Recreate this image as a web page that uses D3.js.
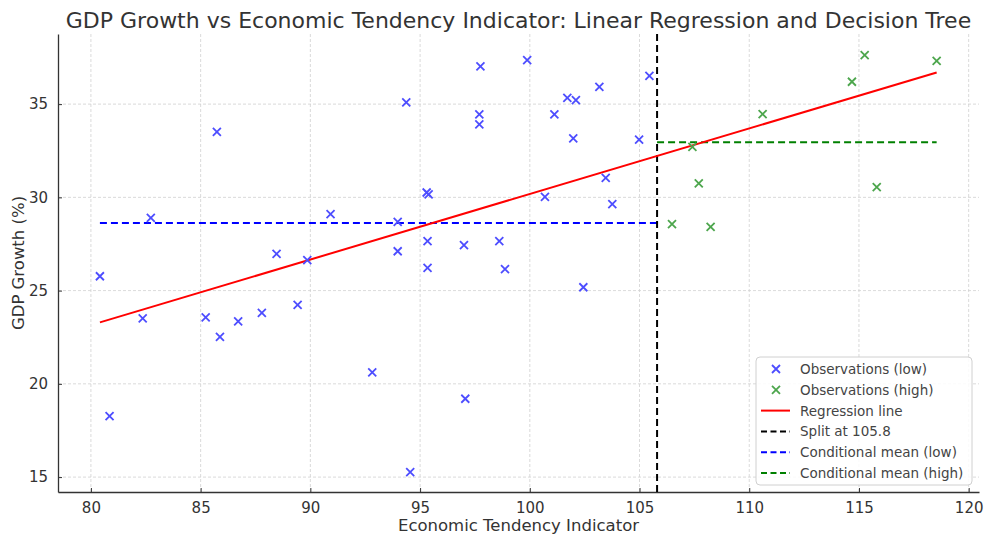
<!doctype html>
<html lang="en">
<head>
<meta charset="utf-8">
<title>GDP Growth vs Economic Tendency Indicator</title>
<script src="https://cdn.jsdelivr.net/npm/d3@7"></script>
<style>
  body { margin: 0; background: #fff; }
  text { font-family: "DejaVu Sans", sans-serif; }
</style>
</head>
<body>
<script>
// observations below the split (x = ETI, y = GDP growth)
var lowX = [80.41, 80.85, 82.36, 82.73, 85.23, 85.74, 85.88, 86.71, 87.79, 88.46,
            89.42, 89.86, 90.92, 92.82, 93.98, 93.98, 94.37, 94.55, 95.30, 95.39,
            95.34, 95.34, 97.00, 97.06, 97.70, 97.70, 97.75, 98.61, 98.87, 99.88,
            100.69, 101.12, 101.71, 101.98, 102.10, 102.44, 103.17, 103.46, 103.76, 104.98,
            105.45];
var lowY = [25.77, 18.27, 23.51, 28.90, 23.57, 33.51, 22.52, 23.35, 23.80, 26.97,
            24.23, 26.63, 29.10, 20.61, 28.69, 27.11, 35.09, 15.27, 30.26, 30.16,
            27.65, 26.22, 27.44, 19.20, 34.45, 33.91, 37.02, 27.65, 26.15, 37.36,
            30.03, 34.45, 35.34, 33.16, 35.21, 25.18, 35.93, 31.05, 29.64, 33.10,
            36.52];

// observations above the split
var highX = [106.48, 107.41, 107.70, 108.24, 110.61, 114.68, 115.26, 115.81, 118.54];
var highY = [28.56, 32.71, 30.75, 28.42, 34.46, 36.20, 37.63, 30.55, 37.32];

// model values
var split = 105.8;
var meanLow = 28.63;
var meanHigh = 32.96;
var slope = 0.3514;
var intercept = -4.96;

var xTicks = [80, 85, 90, 95, 100, 105, 110, 115, 120];
var yTicks = [15, 20, 25, 30, 35];

var width = 986, height = 536;
var margin = { top: 34, right: 7, bottom: 44, left: 58 };

var svg = d3.select("body").append("svg")
    .attr("width", width)
    .attr("height", height);

var x = d3.scaleLinear().domain([78.5, 120.47]).range([margin.left, width - margin.right]);
var y = d3.scaleLinear().domain([14.2, 38.76]).range([height - margin.bottom, margin.top]);

var lowPts = lowX.map(function(v, i) { return [v, lowY[i]]; });
var highPts = highX.map(function(v, i) { return [v, highY[i]]; });

// grid
svg.append("g").selectAll("line").data(xTicks).enter().append("line")
    .attr("x1", function(d) { return x(d); })
    .attr("x2", function(d) { return x(d); })
    .attr("y1", y.range()[0]).attr("y2", y.range()[1])
    .attr("stroke", "#d0d0d0").attr("stroke-width", 0.8).attr("stroke-dasharray", "3,2");
svg.append("g").selectAll("line").data(yTicks).enter().append("line")
    .attr("y1", function(d) { return y(d); })
    .attr("y2", function(d) { return y(d); })
    .attr("x1", x.range()[0]).attr("x2", x.range()[1])
    .attr("stroke", "#d0d0d0").attr("stroke-width", 0.8).attr("stroke-dasharray", "3,2");

// axes (inward ticks)
var xAxis = svg.append("g")
    .attr("transform", "translate(0," + y.range()[0] + ")")
    .call(d3.axisBottom(x).tickValues(xTicks).tickSizeInner(-4).tickSizeOuter(0).tickPadding(10));
var yAxis = svg.append("g")
    .attr("transform", "translate(" + x.range()[0] + ",0)")
    .call(d3.axisLeft(y).tickValues(yTicks).tickSizeInner(-4).tickSizeOuter(0).tickPadding(10));
[xAxis, yAxis].forEach(function(a) {
    a.select(".domain").attr("stroke", "#333").attr("stroke-width", 1.3);
    a.selectAll(".tick line").attr("stroke", "#333");
    a.selectAll(".tick text").attr("font-size", 15).attr("fill", "#333")
        .attr("font-family", "DejaVu Sans, sans-serif");
});

// conditional means
svg.append("line")
    .attr("x1", x(d3.min(lowX))).attr("x2", x(split))
    .attr("y1", y(meanLow)).attr("y2", y(meanLow))
    .attr("stroke", "#0000ff").attr("stroke-width", 2).attr("stroke-dasharray", "7,4");
svg.append("line")
    .attr("x1", x(split)).attr("x2", x(d3.max(highX)))
    .attr("y1", y(meanHigh)).attr("y2", y(meanHigh))
    .attr("stroke", "#008000").attr("stroke-width", 2).attr("stroke-dasharray", "7,4");

// split line
svg.append("line")
    .attr("x1", x(split)).attr("x2", x(split))
    .attr("y1", y.range()[0]).attr("y2", y.range()[1])
    .attr("stroke", "#000").attr("stroke-width", 2).attr("stroke-dasharray", "7,4");

// regression line
var xMin = d3.min(lowX), xMax = d3.max(highX);
svg.append("line")
    .attr("x1", x(xMin)).attr("y1", y(intercept + slope * xMin))
    .attr("x2", x(xMax)).attr("y2", y(intercept + slope * xMax))
    .attr("stroke", "#ff0000").attr("stroke-width", 2);

// x markers
function cross(g, px, py, color) {
    var s = 4;
    g.append("path")
        .attr("d", "M" + (px - s) + "," + (py - s) + "L" + (px + s) + "," + (py + s) +
                   "M" + (px - s) + "," + (py + s) + "L" + (px + s) + "," + (py - s))
        .attr("stroke", color).attr("stroke-width", 1.8).attr("fill", "none");
}
var marks = svg.append("g");
lowPts.forEach(function(p) { cross(marks, x(p[0]), y(p[1]), "#4d4dff"); });
highPts.forEach(function(p) { cross(marks, x(p[0]), y(p[1]), "#4da64d"); });

// title and axis labels
svg.append("text")
    .attr("x", (x.range()[0] + x.range()[1]) / 2).attr("y", 28)
    .attr("text-anchor", "middle").attr("font-size", 22).attr("fill", "#333")
    .text("GDP Growth vs Economic Tendency Indicator: Linear Regression and Decision Tree");
svg.append("text")
    .attr("x", (x.range()[0] + x.range()[1]) / 2).attr("y", 531)
    .attr("text-anchor", "middle").attr("font-size", 16.5).attr("fill", "#333")
    .text("Economic Tendency Indicator");
svg.append("text")
    .attr("transform", "translate(24," + (y.range()[0] + y.range()[1]) / 2 + ") rotate(-90)")
    .attr("text-anchor", "middle").attr("font-size", 16.5).attr("fill", "#333")
    .text("GDP Growth (%)");

// legend
var legend = svg.append("g").attr("transform", "translate(756,357)");
legend.append("rect")
    .attr("width", 216).attr("height", 128).attr("rx", 4)
    .attr("fill", "#fff").attr("fill-opacity", 0.85)
    .attr("stroke", "#d0d0d0");
var items = [
    { label: "Observations (low)", type: "x", color: "#4d4dff" },
    { label: "Observations (high)", type: "x", color: "#4da64d" },
    { label: "Regression line", type: "line", color: "#ff0000" },
    { label: "Split at 105.8", type: "dash", color: "#000" },
    { label: "Conditional mean (low)", type: "dash", color: "#0000ff" },
    { label: "Conditional mean (high)", type: "dash", color: "#008000" }
];
items.forEach(function(d, i) {
    var yy = 12 + i * 20.8;
    if (d.type === "x") {
        cross(legend, 20, yy, d.color);
    } else {
        legend.append("line")
            .attr("x1", 5).attr("x2", 34).attr("y1", yy).attr("y2", yy)
            .attr("stroke", d.color).attr("stroke-width", 2)
            .attr("stroke-dasharray", d.type === "dash" ? "6,3.5" : null);
    }
    legend.append("text")
        .attr("x", 44).attr("y", yy + 5)
        .attr("font-size", 13.5).attr("fill", "#444")
        .text(d.label);
});
</script>
</body>
</html>
